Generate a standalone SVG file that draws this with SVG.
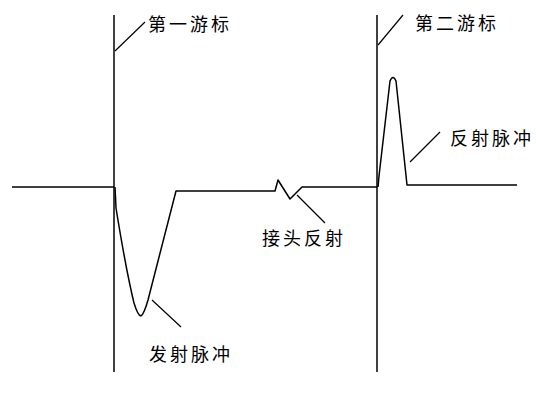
<svg xmlns="http://www.w3.org/2000/svg" width="536" height="399" viewBox="0 0 536 399">
<style>
.ln{fill:none;stroke:#000;stroke-width:1.5;stroke-linejoin:round}
.ld{fill:none;stroke:#000;stroke-width:1.2}
.t{font-family:"Noto Sans CJK SC","Noto Sans CJK JP",sans-serif;font-size:18px;letter-spacing:3px;fill:#000;dominant-baseline:central}
</style>
<rect width="536" height="399" fill="#fff"/>
<g id="waveform">
<polyline class="ln" points="12,187 114,187"/>
<path class="ln" d="M115,187 L116,208 Q126,270 134,303 Q138,316 141,316 Q144,314 148,300 L176,191 L275,191 L278,180 L290,199 L302,187 L377,187"/>
<path class="ln" d="M378,187 L379,176 L390,81 Q393,74 396,81 L407,185 L517,185"/>
</g>
<g id="cursor1">
<line class="ln" x1="114" y1="15" x2="114" y2="372"/>
<text class="t" x="148" y="23">第一游标</text>
</g>
<g id="cursor2">
<line class="ln" x1="377" y1="15" x2="377" y2="372"/>
<text class="t" x="415" y="22">第二游标</text>
</g>
<g id="label-reflect">
<text class="t" x="450" y="137">反射脉冲</text>
</g>
<g id="label-joint">
<text class="t" x="262" y="237">接头反射</text>
</g>
<g id="label-emit">
<text class="t" x="149" y="353">发射脉冲</text>
</g>
<g id="connectors">
<line class="ld" x1="115" y1="51" x2="145" y2="22"/>
<line class="ld" x1="378" y1="45" x2="403" y2="15"/>
<line class="ld" x1="410" y1="162" x2="440" y2="132"/>
<line class="ld" x1="297" y1="195" x2="325" y2="223"/>
<line class="ld" x1="152" y1="300" x2="181" y2="327"/>
</g>
</svg>
